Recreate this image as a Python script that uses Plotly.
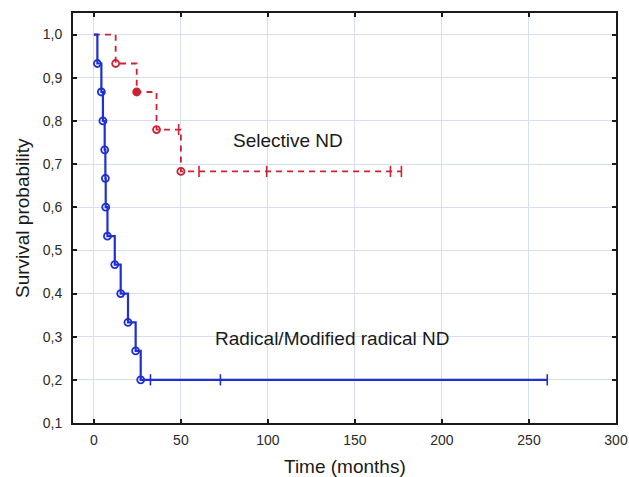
import plotly.graph_objects as go

# ---- data ----
rad_event_t = [2.0, 4.3, 5.2, 6.2, 6.6, 6.8, 7.8, 12.0, 15.4, 19.6, 24.0, 26.9]
rad_event_s = [0.933, 0.867, 0.800, 0.733, 0.667, 0.600, 0.533, 0.467, 0.400, 0.333, 0.267, 0.200]
rad_cens_t = [32.5, 72.7, 260.5]
rad_cens_s = [0.200, 0.200, 0.200]

sel_event_t = [12.5, 24.6, 36.0, 50.0]
sel_event_s = [0.933, 0.867, 0.780, 0.683]
sel_cens_t = [48.7, 60.4, 99.3, 170.4, 176.7]
sel_cens_s = [0.780, 0.683, 0.683, 0.683, 0.683]

x_ticks = [0, 50, 100, 150, 200, 250, 300]
y_ticks = [0.1, 0.2, 0.3, 0.4, 0.5, 0.6, 0.7, 0.8, 0.9, 1.0]
y_ticktext = ["0,1", "0,2", "0,3", "0,4", "0,5", "0,6", "0,7", "0,8", "0,9", "1,0"]

label_sel = "Selective ND"
label_rad = "Radical/Modified radical ND"


def km_path(ev_t, ev_s, ce_t, ce_s):
    pts = sorted(list(zip(ev_t, ev_s)) + list(zip(ce_t, ce_s)), key=lambda p: p[0])
    xs = [0.0] + [p[0] for p in pts]
    ys = [1.0] + [p[1] for p in pts]
    return xs, ys


BLUE = "#1f2fd0"
RED = "#cc2233"
FONT = "Liberation Sans, Arial, sans-serif"

fig = go.Figure()

rx, ry = km_path(sel_event_t, sel_event_s, sel_cens_t, sel_cens_s)
fig.add_trace(go.Scatter(x=rx, y=ry, mode="lines", line=dict(color=RED, width=1.8, dash="6px,5px"),
                         line_shape="hv", hoverinfo="skip", showlegend=False))
bx, by = km_path(rad_event_t, rad_event_s, rad_cens_t, rad_cens_s)
fig.add_trace(go.Scatter(x=bx, y=by, mode="lines", line=dict(color=BLUE, width=2.2),
                         line_shape="hv", hoverinfo="skip", showlegend=False))

# event markers
sel_symbols = ["circle" if abs(s - 0.867) < 1e-3 else "circle-open" for s in sel_event_s]
fig.add_trace(go.Scatter(x=sel_event_t, y=sel_event_s, mode="markers",
                         marker=dict(symbol=sel_symbols, size=7, color=RED, line=dict(color=RED, width=1.8)),
                         showlegend=False))
fig.add_trace(go.Scatter(x=rad_event_t, y=rad_event_s, mode="markers",
                         marker=dict(symbol="circle-open", size=7, color=BLUE, line=dict(color=BLUE, width=1.8)),
                         showlegend=False))
# censored markers
fig.add_trace(go.Scatter(x=sel_cens_t, y=sel_cens_s, mode="markers",
                         marker=dict(symbol="line-ns", size=8, color=RED, line=dict(color=RED, width=1.6)),
                         showlegend=False))
fig.add_trace(go.Scatter(x=rad_cens_t, y=rad_cens_s, mode="markers",
                         marker=dict(symbol="line-ns", size=8, color=BLUE, line=dict(color=BLUE, width=1.6)),
                         showlegend=False))

fig.add_annotation(x=111.4, y=0.754, text=label_sel, showarrow=False,
                   font=dict(family=FONT, size=19, color="#1a1a1a"))
fig.add_annotation(x=137.0, y=0.296, text=label_rad, showarrow=False,
                   font=dict(family=FONT, size=19, color="#1a1a1a"))

fig.add_annotation(x=0.5, y=0, xref="paper", yref="paper", xanchor="center", yanchor="middle",
                   yshift=-43, text="Time (months)",
                   showarrow=False, font=dict(family=FONT, size=19, color="#1a1a1a"))
fig.add_annotation(x=0, y=0.5, xref="paper", yref="paper", xanchor="center", yanchor="middle",
                   xshift=-51, text="Survival probability",
                   textangle=-90, showarrow=False, font=dict(family=FONT, size=19, color="#1a1a1a"))

axis_common = dict(showline=True, linecolor="#1a1a1a", linewidth=2, mirror="ticks",
                   ticks="inside", ticklen=4, tickwidth=1.5, tickcolor="#1a1a1a",
                   showgrid=True, gridcolor="#d9ddf0", gridwidth=1, zeroline=False,
                   automargin=False,
                   tickfont=dict(family=FONT, size=14, color="#2a2a2a"))

fig.update_xaxes(range=[-12, 300], tickvals=x_ticks, ticklabelstandoff=3, **axis_common)
fig.update_yaxes(range=[0.1, 1.05], tickvals=y_ticks, ticktext=y_ticktext, ticklabelstandoff=6, **axis_common)

fig.update_layout(width=629, height=477, margin=dict(l=73, r=13, t=13, b=54),
                  paper_bgcolor="white", plot_bgcolor="white",
                  font=dict(family=FONT))

# remove the browser's default 8px body margin so the 629x477 figure fills the window exactly
fig.write_html("out.html", config={"displayModeBar": False},
               post_script="document.body.style.margin='0';document.body.style.overflow='hidden';")
